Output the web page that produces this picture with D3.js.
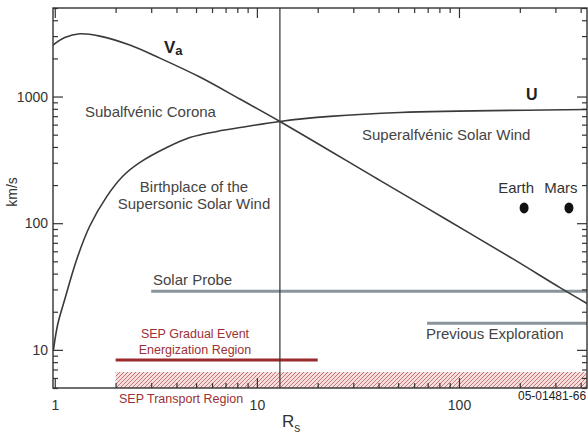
<!DOCTYPE html>
<html>
<head>
<meta charset="utf-8">
<script src="https://cdn.jsdelivr.net/npm/d3@7"></script>
<style>
  body { margin: 0; background: #fff; }
  text { font-family: "Liberation Sans", Arial, sans-serif; }
</style>
</head>
<body>
<div id="chart"></div>
<script>
// Curve data (R in solar radii, speed in km/s)
const vaR = [0.98, 1.12, 1.33, 1.67, 2.35, 3.31, 5.22, 8.24, 13, 40.6, 87.5, 186, 316, 435];
const vaV = [2550, 2920, 3130, 3000, 2550, 2010, 1425, 955, 636, 218, 106, 52, 31, 23];

const uR = [0.985, 1.035, 1.12, 1.285, 1.49, 1.81, 2.17, 2.64, 3.58, 4.66, 6.34, 8.9, 13, 23, 51, 435];
const uV = [10, 16, 25, 52, 95, 163, 235, 302, 396, 475, 530, 580, 636, 697, 748, 790];

// Region bars: [startR, endR, speed]
const solarProbe = [3, 430, 29];
const previousExploration = [69.5, 430, 16.2];
const sepGradual = [2, 20, 8.3];
const sepTransport = [2, 430, 6.7, 5];
const alfvenR = 13;

// Planets
const planetNames = ["Earth", "Mars"];
const planetR = [210, 350];
const planetV = [132, 132];

const xMajor = [1, 10, 100];
const yMajor = [10, 100, 1000];

const W = 588, H = 436;
const margin = {left: 53, right: 587, top: 8, bottom: 388};

const svg = d3.select("#chart")
  .append("svg")
  .attr("width", W)
  .attr("height", H);

const x = d3.scaleLog().domain([0.98, 430]).range([margin.left, margin.right]);
const y = d3.scaleLog().domain([5, 5000]).range([margin.bottom, margin.top]);

const xMinor = x.ticks().filter(d => !xMajor.includes(d));
const yMinor = y.ticks().filter(d => !yMajor.includes(d));

const defs = svg.append("defs");
defs.append("clipPath").attr("id", "plot")
  .append("rect").attr("x", margin.left).attr("y", margin.top)
  .attr("width", margin.right - margin.left).attr("height", margin.bottom - margin.top);

const pat = defs.append("pattern").attr("id", "hatch")
  .attr("patternUnits", "userSpaceOnUse")
  .attr("width", 4).attr("height", 4);
pat.append("rect").attr("width", 4).attr("height", 4).attr("fill", "#f5dede");
pat.append("path").attr("d", "M-1,1 l2,-2 M0,4 l4,-4 M3,5 l2,-2")
  .attr("stroke", "#c46868").attr("stroke-width", 0.9);

const plot = svg.append("g").attr("clip-path", "url(#plot)");

// SEP transport region (hatched)
plot.append("rect")
  .attr("x", x(sepTransport[0]))
  .attr("y", y(sepTransport[2]))
  .attr("width", x(sepTransport[1]) - x(sepTransport[0]))
  .attr("height", y(sepTransport[3]) - y(sepTransport[2]))
  .attr("fill", "url(#hatch)");

// gray mission bars
[solarProbe, previousExploration].forEach(b => {
  plot.append("line")
    .attr("x1", x(b[0])).attr("x2", x(b[1]))
    .attr("y1", y(b[2])).attr("y2", y(b[2]))
    .attr("stroke", "#8a949b").attr("stroke-width", 3);
});

// SEP gradual event bar
plot.append("line")
  .attr("x1", x(sepGradual[0])).attr("x2", x(sepGradual[1]))
  .attr("y1", y(sepGradual[2])).attr("y2", y(sepGradual[2]))
  .attr("stroke", "#9b2a2e").attr("stroke-width", 3);

// Alfven point vertical line
plot.append("line")
  .attr("x1", x(alfvenR)).attr("x2", x(alfvenR))
  .attr("y1", margin.top).attr("y2", margin.bottom)
  .attr("stroke", "#333").attr("stroke-width", 1.2);

// curves
const line = d3.line()
  .x(d => x(d[0]))
  .y(d => y(d[1]))
  .curve(d3.curveCatmullRom);

plot.append("path")
  .datum(vaR.map((r, i) => [r, vaV[i]]))
  .attr("d", line)
  .attr("fill", "none").attr("stroke", "#3a3a3a").attr("stroke-width", 1.6);

plot.append("path")
  .datum(uR.map((r, i) => [r, uV[i]]))
  .attr("d", line)
  .attr("fill", "none").attr("stroke", "#3a3a3a").attr("stroke-width", 1.6);

// planets
plot.selectAll(".planet")
  .data(planetR)
  .enter().append("ellipse")
  .attr("cx", d => x(d))
  .attr("cy", (d, i) => y(planetV[i]))
  .attr("rx", 4.5).attr("ry", 5.5)
  .attr("fill", "#111");

svg.selectAll(".pname")
  .data(planetNames)
  .enter().append("text")
  .attr("x", (d, i) => x(planetR[i]) - 8)
  .attr("y", (d, i) => y(planetV[i]) - 15)
  .attr("text-anchor", "middle")
  .attr("font-size", 15)
  .attr("fill", "#333")
  .text(d => d);

// axes: ticks inward on all four sides
function axis(gen, scale, vals, size, tx, ty, labels) {
  const a = gen(scale).tickValues(vals).tickSize(-size);
  if (labels) a.tickPadding(labels).tickFormat(d3.format("d"));
  else a.tickFormat("");
  const g = svg.append("g").attr("transform", `translate(${tx},${ty})`).call(a);
  g.select(".domain").remove();
  g.selectAll("line").attr("stroke", "#333").attr("stroke-width", 1.2);
  g.selectAll("text").attr("font-size", 14).attr("fill", "#333")
    .attr("font-family", "Liberation Sans, Arial, sans-serif");
  return g;
}
axis(d3.axisBottom, x, xMajor, 10, 0, margin.bottom, 12);
axis(d3.axisBottom, x, xMinor, 5, 0, margin.bottom, 0);
axis(d3.axisTop, x, xMajor, 10, 0, margin.top, 0);
axis(d3.axisTop, x, xMinor, 5, 0, margin.top, 0);
axis(d3.axisLeft, y, yMajor, 10, margin.left, 0, 5);
axis(d3.axisLeft, y, yMinor, 5, margin.left, 0, 0);
axis(d3.axisRight, y, yMajor, 10, margin.right, 0, 0);
axis(d3.axisRight, y, yMinor, 5, margin.right, 0, 0);

svg.append("rect")
  .attr("x", margin.left).attr("y", margin.top)
  .attr("width", margin.right - margin.left).attr("height", margin.bottom - margin.top)
  .attr("fill", "none").attr("stroke", "#333").attr("stroke-width", 1.4);

// axis titles
svg.append("text")
  .attr("transform", "translate(17,192) rotate(-90)")
  .attr("text-anchor", "middle")
  .attr("font-size", 14).attr("fill", "#333")
  .text("km/s");

const rs = svg.append("text")
  .attr("x", 282).attr("y", 427)
  .attr("font-size", 17).attr("fill", "#333");
rs.append("tspan").text("R");
rs.append("tspan").attr("font-size", 12).attr("dy", 5).text("s");

// annotations
function label(txt, px, py, size, color, anchor) {
  return svg.append("text")
    .attr("x", px).attr("y", py)
    .attr("font-size", size)
    .attr("fill", color || "#444")
    .attr("text-anchor", anchor || "start")
    .text(txt);
}
label("Subalfvénic Corona", 85, 117, 15);
label("Superalfvénic Solar Wind", 362, 140, 15);
label("Birthplace of the", 194, 192, 15, "#444", "middle");
label("Supersonic Solar Wind", 194, 209, 15, "#444", "middle");
label("Solar Probe", 153, 285, 15);
label("Previous Exploration", 426, 339, 15);
label("SEP Gradual Event", 195, 338, 12.5, "#9b3035", "middle");
label("Energization Region", 195, 354, 12.5, "#9b3035", "middle");
label("SEP Transport Region", 119, 403, 12.5, "#9b3035");
label("05-01481-66", 518, 400, 12, "#222");

const va = svg.append("text")
  .attr("x", 164).attr("y", 53)
  .attr("font-family", "Liberation Serif, Times New Roman, serif")
  .attr("font-weight", "bold").attr("font-size", 17).attr("fill", "#222");
va.append("tspan").text("V");
va.append("tspan").attr("font-size", 13).attr("dy", 2).text("a");

svg.append("text")
  .attr("x", 526).attr("y", 100)
  .attr("font-family", "Liberation Serif, Times New Roman, serif")
  .attr("font-weight", "bold").attr("font-size", 16).attr("fill", "#222")
  .text("U");
</script>
</body>
</html>
